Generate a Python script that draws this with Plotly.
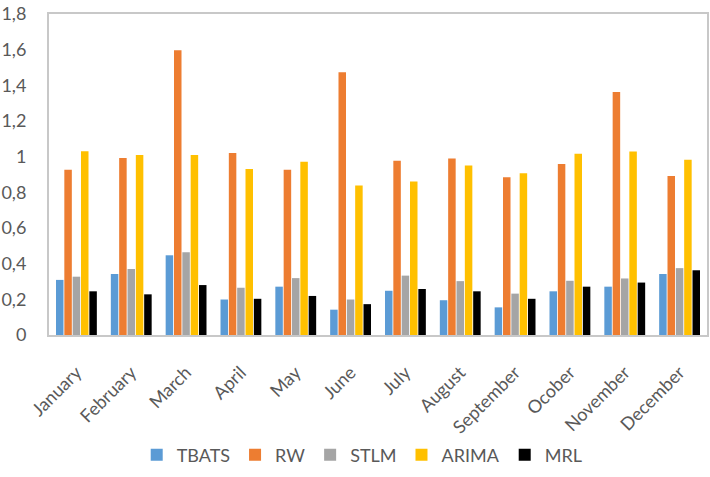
import plotly.graph_objects as go

months = ["January", "February", "March", "April", "May", "June", "July",
          "August", "September", "Ocober", "November", "December"]
tbats = [0.309, 0.342, 0.447, 0.199, 0.271, 0.142, 0.248, 0.195, 0.155, 0.245, 0.271, 0.342]
rw = [0.926, 0.992, 1.597, 1.021, 0.926, 1.473, 0.977, 0.990, 0.885, 0.959, 1.362, 0.891]
stlm = [0.327, 0.370, 0.464, 0.265, 0.319, 0.199, 0.333, 0.302, 0.232, 0.304, 0.317, 0.375]
arima = [1.031, 1.009, 1.010, 0.931, 0.972, 0.839, 0.861, 0.950, 0.907, 1.016, 1.029, 0.983]
mrl = [0.245, 0.228, 0.280, 0.203, 0.219, 0.173, 0.258, 0.245, 0.203, 0.271, 0.294, 0.363]

series = [("TBATS", tbats, "#5b9bd5"), ("RW", rw, "#ed7d31"), ("STLM", stlm, "#a5a5a5"),
          ("ARIMA", arima, "#ffc000"), ("MRL", mrl, "#000000")]

fig = go.Figure()
for name, vals, col in series:
    fig.add_trace(go.Bar(x=months, y=vals, name=name, marker_color=col,
                         marker_line_width=0))

font = "Lato, sans-serif"
fig.update_layout(
    width=710, height=477,
    margin=dict(l=49, r=3, t=14, b=137),
    paper_bgcolor="white", plot_bgcolor="white",
    separators=", ",
    barmode="group", bargap=0.24, bargroupgap=0.1,
    font=dict(family=font, color="#595959", size=17),
    xaxis=dict(tickangle=-45, tickfont=dict(size=18), showline=True, mirror=True,
               linecolor="#c8c8c8", linewidth=2, ticks="", showgrid=False,
               automargin=False, ticklabelstandoff=18),
    yaxis=dict(range=[0, 1.8], dtick=0.2, tickfont=dict(size=18), showline=True,
               mirror=True, linecolor="#c8c8c8", linewidth=2, showgrid=False,
               zeroline=False, ticks="", ticklabelstandoff=17, automargin=False),
    legend=dict(orientation="h", x=0.476, xanchor="center", y=-0.374, yanchor="middle",
                font=dict(size=18), itemwidth=30, traceorder="normal"),
)

fig.write_html("out.html", config={"displayModeBar": False},
               post_script="document.body.style.margin='0';document.body.style.padding='0';")
